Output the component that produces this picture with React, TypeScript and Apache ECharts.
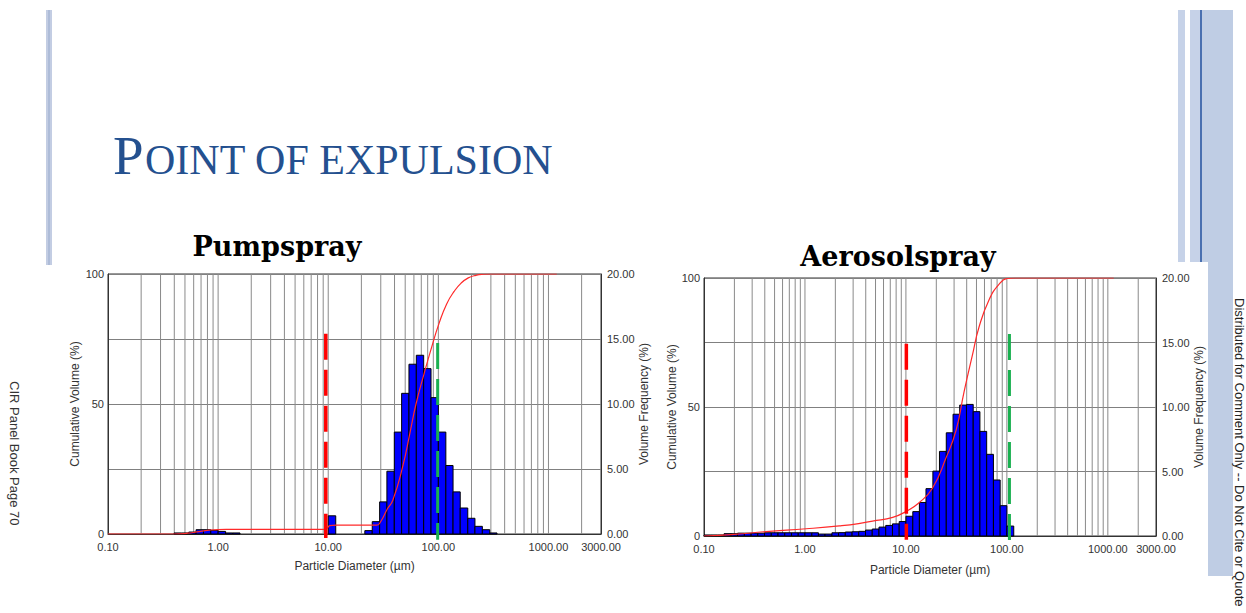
import React, { useEffect, useRef } from 'react';
import * as echarts from 'echarts';

// Size classes (µm), 15 per decade, shared by both instruments
const binEdges = [
  0.1, 0.117, 0.136, 0.158, 0.185, 0.215, 0.251, 0.293, 0.341, 0.398,
  0.464, 0.541, 0.631, 0.736, 0.858, 1.0, 1.17, 1.36, 1.58, 1.85,
  2.15, 2.51, 2.93, 3.41, 3.98, 4.64, 5.41, 6.31, 7.36, 8.58,
  10.0, 11.7, 13.6, 15.8, 18.5, 21.5, 25.1, 29.3, 34.1, 39.8,
  46.4, 54.1, 63.1, 73.6, 85.8, 100, 117, 136, 158, 185,
  215, 251, 293, 341,
];

// Volume frequency (%) per class
const pumpFreq = [
  0, 0, 0, 0, 0, 0, 0, 0, 0, 0.08,
  0.08, 0.15, 0.33, 0.33, 0.28, 0.2, 0.08, 0.08, 0, 0,
  0, 0, 0, 0, 0, 0, 0, 0, 0, 0,
  1.4, 0, 0, 0, 0, 0.26, 0.95, 2.47, 4.83, 7.84,
  10.82, 13.06, 13.75, 12.72, 10.49, 7.84, 5.27, 3.24, 2.0, 1.21,
  0.59, 0.33, 0.08,
];
const aeroFreq = [
  0.08, 0.08, 0.08, 0.18, 0.18, 0.22, 0.22, 0.22, 0.22, 0.25,
  0.25, 0.25, 0.25, 0.25, 0.25, 0.25, 0.25, 0.15, 0.15, 0.25,
  0.26, 0.31, 0.33, 0.36, 0.46, 0.54, 0.69, 0.82, 0.94, 1.12,
  1.53, 1.89, 2.6, 3.67, 5.03, 6.56, 8.0, 9.44, 10.15, 10.2,
  9.64, 8.11, 6.33, 4.34, 2.35, 0.77, 0, 0, 0, 0,
  0, 0, 0,
];

// Cumulative volume (%) curves
const pumpCumD = [0.1, 0.4, 0.53, 0.64, 0.83, 1.18, 9.5, 10.3, 11.8, 27.6, 30, 34.4, 38.6, 47.5, 55.3, 62.7, 74.6, 87.1, 101.5, 119, 139, 161, 187, 219, 256, 300, 1190];
const pumpCumV = [0, 0, 0.3, 0.8, 1.5, 1.8, 1.8, 3.2, 3.4, 3.4, 4.8, 9.6, 13, 26, 39, 50, 62, 72, 81, 88.5, 93.3, 96.5, 98.5, 99.5, 99.9, 100, 100];
const aeroCumD = [0.1, 0.2, 0.41, 1.03, 2.19, 3.4, 4.67, 7.4, 10, 13.5, 18.3, 24.8, 31.4, 37.7, 45.5, 53, 66.5, 83.5, 101, 120, 1144];
const aeroCumV = [0, 0.6, 1.7, 2.8, 3.9, 4.8, 5.8, 7.2, 9.5, 12.9, 18.5, 30, 41, 56, 70, 81, 91.5, 97.5, 99.8, 100, 100];

// Marker lines (diameter, top in volume-frequency units)
const pumpRedD = 9.5, pumpRedTop = 15.4;
const pumpGreenD = 98.6, pumpGreenTop = 14.7;
const aeroRedD = 10.1, aeroRedTop = 14.9;
const aeroGreenD = 106, aeroGreenTop = 15.66;

// Vertical grid lines on the log axis
const gridDiameters = [
  0.2, 0.3, 0.4, 0.5, 0.6, 0.7, 0.8, 0.9, 1,
  2, 3, 4, 5, 6, 7, 8, 9, 10,
  20, 30, 40, 50, 60, 70, 80, 90, 100,
  200, 300, 400, 500, 600, 700, 800, 900, 1000, 2000,
];

const FONT = "'Liberation Sans', Arial, sans-serif";

function makeBars(freq: number[]) {
  const out: number[][] = [];
  freq.forEach((v, i) => {
    if (v > 0) out.push([binEdges[i], binEdges[i + 1], v]);
  });
  return out;
}

function chartParts(g: number, grid: any, nameGaps: any) {
  const xAxis = {
    type: 'log', logBase: 10, min: 0.1, max: 3000, gridIndex: g,
    axisLine: { show: true, lineStyle: { color: '#333', width: 1 } },
    axisTick: { show: false },
    splitLine: { show: false },
    axisLabel: {
      formatter: (v: number) => Number(v).toFixed(2), margin: 7,
      fontSize: 11, color: '#333', fontFamily: FONT, showMinLabel: true, showMaxLabel: true,
    },
    name: 'Particle Diameter (µm)', nameLocation: 'middle', nameGap: nameGaps.x,
    nameTextStyle: { fontSize: 12, color: '#333', fontFamily: FONT },
  };
  const yLeft = {
    type: 'value', min: 0, max: 100, interval: 25, gridIndex: g, position: 'left',
    axisLine: { show: true, lineStyle: { color: '#333', width: 1 } },
    axisTick: { show: false },
    splitLine: { show: true, lineStyle: { color: '#808080', width: 1 } },
    axisLabel: {
      formatter: (v: number) => (v % 50 === 0 ? String(v) : ''), margin: 4,
      fontSize: 11, color: '#333', fontFamily: FONT,
    },
    name: 'Cumulative Volume (%)', nameLocation: 'middle', nameGap: nameGaps.yl, nameRotate: 90,
    nameTextStyle: { fontSize: 12, color: '#333', fontFamily: FONT },
  };
  const yRight = {
    type: 'value', min: 0, max: 20, interval: 5, gridIndex: g, position: 'right',
    axisLine: { show: true, lineStyle: { color: '#333', width: 1 } },
    axisTick: { show: false },
    splitLine: { show: false },
    axisLabel: {
      formatter: (v: number) => Number(v).toFixed(2), margin: 6,
      fontSize: 11, color: '#333', fontFamily: FONT,
    },
    name: 'Volume Frequency (%)', nameLocation: 'middle', nameGap: nameGaps.yr, nameRotate: 90,
    nameTextStyle: { fontSize: 12, color: '#333', fontFamily: FONT },
  };
  return { grid, xAxis, yLeft, yRight };
}

function seriesFor(xi: number, yl: number, yr: number, freq: number[], cumD: number[], cumV: number[],
  redD: number, redTop: number, greenD: number, greenTop: number) {
  return [
    {
      type: 'custom', xAxisIndex: xi, yAxisIndex: yr, z: 1, silent: true,
      data: gridDiameters.map((d) => [d]),
      encode: { x: 0 },
      renderItem: (params: any, api: any) => {
        const d = api.value(0);
        const p0 = api.coord([d, 0]);
        const p1 = api.coord([d, 20]);
        return {
          type: 'line',
          shape: { x1: p0[0], y1: p0[1], x2: p1[0], y2: p1[1] },
          style: { stroke: '#8a8a8a', lineWidth: 1 },
        };
      },
    },
    {
      type: 'custom', xAxisIndex: xi, yAxisIndex: yr, z: 2, silent: true,
      data: makeBars(freq),
      encode: { x: [0, 1], y: 2 },
      renderItem: (params: any, api: any) => {
        const p0 = api.coord([api.value(0), 0]);
        const p1 = api.coord([api.value(1), api.value(2)]);
        return {
          type: 'rect',
          shape: { x: p0[0], y: p1[1], width: p1[0] - p0[0], height: p0[1] - p1[1] },
          style: { fill: '#0000ff', stroke: '#000000', lineWidth: 1 },
        };
      },
    },
    {
      type: 'line', xAxisIndex: xi, yAxisIndex: yl, z: 3, silent: true,
      data: cumD.map((d, i) => [d, cumV[i]]),
      showSymbol: false, symbol: 'none', smooth: 0.5,
      lineStyle: { color: '#ff2a2a', width: 1.2 },
    },
    {
      type: 'line', xAxisIndex: xi, yAxisIndex: yr, z: 4, silent: true, clip: false,
      data: [[redD, redTop], [redD, -0.3]],
      symbol: 'none',
      lineStyle: { color: '#ff0000', width: 3.5, type: [26, 10] },
    },
    {
      type: 'line', xAxisIndex: xi, yAxisIndex: yr, z: 4, silent: true, clip: false,
      data: [[greenD, greenTop], [greenD, -0.45]],
      symbol: 'none',
      lineStyle: { color: '#19b04f', width: 3, type: [26, 10] },
    },
  ];
}

export default function App() {
  const ref = useRef<HTMLDivElement>(null);
  useEffect(() => {
    if (!ref.current) return;
    const chart = echarts.init(ref.current, undefined, { renderer: 'svg' });
    const a = chartParts(0,
      { left: 108, top: 274, width: 493, height: 260, show: true, borderColor: '#333', borderWidth: 1, backgroundColor: 'transparent' },
      { x: 26, yl: 27, yr: 31 });
    const b = chartParts(1,
      { left: 704, top: 278, width: 452, height: 258, show: true, borderColor: '#333', borderWidth: 1, backgroundColor: 'transparent' },
      { x: 28, yl: 23, yr: 34 });

    const option: any = {
      animation: false,
      grid: [a.grid, b.grid],
      xAxis: [a.xAxis, b.xAxis],
      yAxis: [a.yLeft, a.yRight, b.yLeft, b.yRight],
      series: [
        ...seriesFor(0, 0, 1, pumpFreq, pumpCumD, pumpCumV, pumpRedD, pumpRedTop, pumpGreenD, pumpGreenTop),
        ...seriesFor(1, 2, 3, aeroFreq, aeroCumD, aeroCumV, aeroRedD, aeroRedTop, aeroGreenD, aeroGreenTop),
      ],
      graphic: [
        { type: 'rect', shape: { x: 46, y: 10, width: 6, height: 255 }, style: { fill: '#c3cde3' }, z: 0 },
        { type: 'rect', shape: { x: 48, y: 10, width: 2, height: 255 }, style: { fill: '#aebcd8' }, z: 0 },
        { type: 'rect', shape: { x: 1178, y: 10, width: 7, height: 252 }, style: { fill: '#c6d2e8' }, z: 0 },
        { type: 'rect', shape: { x: 1190, y: 10, width: 10, height: 252 }, style: { fill: '#c6d2e8' }, z: 0 },
        { type: 'rect', shape: { x: 1202, y: 10, width: 31, height: 252 }, style: { fill: '#bfcde4' }, z: 0 },
        { type: 'rect', shape: { x: 1200, y: 10, width: 2, height: 252 }, style: { fill: '#4a70b0' }, z: 0 },
        { type: 'rect', shape: { x: 1208, y: 262, width: 25, height: 314 }, style: { fill: '#bfcde4' }, z: 0 },
        {
          type: 'text', x: 113, y: 183, z: 10,
          style: { text: 'P', font: "55px 'Liberation Serif', 'Times New Roman', serif", fill: '#24508f', textAlign: 'left', textVerticalAlign: 'bottom' },
        },
        {
          type: 'text', x: 145, y: 181, z: 10,
          style: { text: 'OINT OF EXPULSION', font: "42px 'Liberation Serif', 'Times New Roman', serif", fill: '#24508f', textAlign: 'left', textVerticalAlign: 'bottom' },
        },
        {
          type: 'text', x: 277, y: 246, z: 10,
          style: { text: 'Pumpspray', font: "bold 27px 'DejaVu Serif', serif", fill: '#000', textAlign: 'center', textVerticalAlign: 'middle' },
        },
        {
          type: 'text', x: 898, y: 256, z: 10,
          style: { text: 'Aerosolspray', font: "bold 27px 'DejaVu Serif', serif", fill: '#000', textAlign: 'center', textVerticalAlign: 'middle' },
        },
        {
          type: 'text', x: 14, y: 381, rotation: -Math.PI / 2, z: 10,
          style: { text: 'CIR Panel Book Page 70', font: `13px ${FONT}`, fill: '#333', textAlign: 'left', textVerticalAlign: 'middle' },
        },
        {
          type: 'text', x: 1239, y: 298, rotation: -Math.PI / 2, z: 10,
          style: { text: 'Distributed for Comment Only -- Do Not Cite or Quote', font: `13px ${FONT}`, fill: '#222', textAlign: 'left', textVerticalAlign: 'middle' },
        },
      ],
    };
    chart.setOption(option);
    return () => chart.dispose();
  }, []);
  return <div ref={ref} style={{ position: 'fixed', left: 0, top: 0, width: 1246, height: 613, background: '#fff' }} />;
}
